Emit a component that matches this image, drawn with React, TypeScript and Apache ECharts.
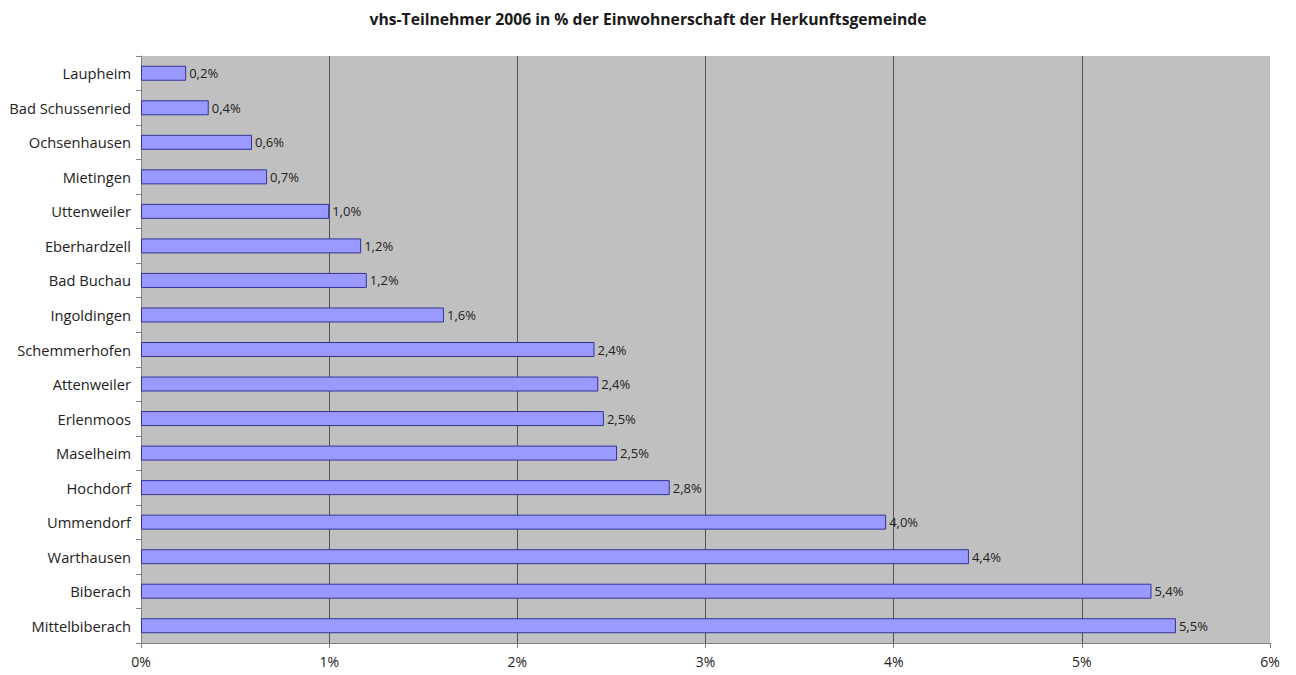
import React, { useEffect, useRef } from "react";
import * as echarts from "echarts";

const categories = [
  "Laupheim",
  "Bad Schussenried",
  "Ochsenhausen",
  "Mietingen",
  "Uttenweiler",
  "Eberhardzell",
  "Bad Buchau",
  "Ingoldingen",
  "Schemmerhofen",
  "Attenweiler",
  "Erlenmoos",
  "Maselheim",
  "Hochdorf",
  "Ummendorf",
  "Warthausen",
  "Biberach",
  "Mittelbiberach",
];

const values = [
  0.24, 0.36, 0.59, 0.67, 1.0, 1.17, 1.2, 1.61, 2.41, 2.43, 2.46, 2.53, 2.81, 3.96, 4.4, 5.37, 5.5,
];

const xTicks = [0, 1, 2, 3, 4, 5, 6];

const titleText = "vhs-Teilnehmer 2006 in % der Einwohnerschaft der Herkunftsgemeinde";

const FONT = "'Open Sans', Lato, sans-serif";

export default function App() {
  const ref = useRef<HTMLDivElement>(null);
  useEffect(() => {
    document.body.style.margin = "0";
    const chart = echarts.init(ref.current!, null, { renderer: "svg" });
    chart.setOption({
      animation: false,
      backgroundColor: "#ffffff",
      title: {
        text: titleText,
        left: "center",
        top: 6,
        textStyle: { fontFamily: FONT, fontSize: 15.7, fontWeight: "bold", color: "#1a1a1a" },
      },
      grid: {
        left: 141,
        right: 26,
        top: 56,
        bottom: 32,
        show: true,
        backgroundColor: "#c0c0c0",
        borderWidth: 0,
      },
      xAxis: {
        type: "value",
        min: xTicks[0],
        max: xTicks[xTicks.length - 1],
        interval: 1,
        axisLine: { show: true, lineStyle: { color: "#808080", width: 1 } },
        axisTick: { show: true, length: 5, lineStyle: { color: "#808080" } },
        axisLabel: {
          margin: 11,
          fontFamily: FONT,
          fontSize: 14,
          color: "#222",
          formatter: (v: number) => `${v}%`,
        },
        splitLine: { show: true, showMaxLine: false, lineStyle: { color: "#555", width: 1 } },
      },
      yAxis: {
        type: "category",
        data: categories,
        inverse: true,
        axisLine: { show: true, lineStyle: { color: "#808080", width: 1 } },
        axisTick: { show: true, length: 5, lineStyle: { color: "#808080" } },
        axisLabel: { margin: 10, fontFamily: FONT, fontSize: 14.7, color: "#222" },
        splitLine: { show: false },
      },
      series: [
        {
          type: "bar",
          data: values,
          barWidth: 15,
          itemStyle: { color: "#9999ff", borderColor: "#333399", borderWidth: 1 },
          label: {
            show: true,
            position: "right",
            distance: 3,
            fontFamily: FONT,
            fontSize: 13,
            color: "#222",
            formatter: (p: any) => `${(p.value as number).toFixed(1).replace(".", ",")}%`,
          },
        },
      ],
    });
    return () => chart.dispose();
  }, []);
  return <div ref={ref} style={{ width: 1296, height: 675 }} />;
}
